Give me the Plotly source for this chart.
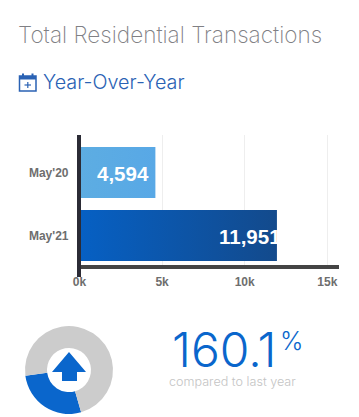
import plotly.graph_objects as go

categories = ["May'20", "May'21"]
values = [4594, 11951]
bar_labels = ["4,594", "11,951"]
label_shift = [-4, 6]
tick_vals = [0, 5000, 10000, 15000]
tick_text = ["0k", "5k", "10k", "15k"]
donut_labels = ["Change", "Rest"]
donut_values = [27.4, 72.6]

W, H = 359, 417
def px(x): return x / W
def py(y): return 1 - y / H

fig = go.Figure()
fig.add_trace(go.Bar(
    y=categories, x=values, orientation="h", width=0.81,
    marker=dict(color=["#5DADE2", "#0A5CB8"], line=dict(width=0)),
    hoverinfo="skip", xaxis="x", yaxis="y",
))
fig.add_trace(go.Pie(
    labels=donut_labels, values=donut_values, hole=0.5, sort=False, direction="clockwise",
    rotation=164, textinfo="none", showlegend=False,
    marker=dict(colors=["#0A66CC", "#CCCCCC"], line=dict(width=0)),
    domain=dict(x=[px(25), px(113)], y=[py(414), py(326)]),
    hoverinfo="skip",
))

title_font = "Inter"
annots = [
    dict(text="Total Residential Transactions", x=px(15.5), y=py(34), xanchor="left", yanchor="middle",
         font=dict(family=title_font, size=22.6, color="#808084", weight=200)),
    dict(text="Year-Over-Year", x=px(41), y=py(82), xanchor="left", yanchor="middle",
         font=dict(family=title_font, size=19.8, color="#2a62b4", weight=300)),
    dict(text="160.1", x=px(170), y=py(349), xanchor="left", yanchor="middle",
         font=dict(family=title_font, size=48, color="#0a66cc", weight=300)),
    dict(text="%", x=px(278), y=py(341), xanchor="left", yanchor="middle",
         font=dict(family=title_font, size=25, color="#0a66cc", weight=300)),
    dict(text="compared to last year", x=px(167), y=py(381), xanchor="left", yanchor="middle",
         font=dict(family=title_font, size=12.6, color="#c4c4c4", weight=300)),
]
for a in annots:
    a.update(xref="paper", yref="paper", showarrow=False)
for cat, val, lab, sh in zip(categories, values, bar_labels, label_shift):
    annots.append(dict(text=lab, x=val, y=cat, xref="x", yref="y", xanchor="right", yanchor="middle",
                       xshift=sh, yshift=-1, showarrow=False,
                       font=dict(family="Liberation Sans", size=20.5, color="white", weight="bold")))

def pth(points):
    return "M" + " L".join(f"{px(x):.5f},{py(y):.5f}" for x, y in points) + " Z"

shapes = [
    dict(type="line", x0=px(79), x1=px(79), y0=py(135), y1=py(277), line=dict(color="#2b2b35", width=4), layer="above"),
    dict(type="line", x0=px(81), x1=px(339), y0=py(267), y1=py(267), line=dict(color="#444444", width=4), layer="above"),
    dict(type="path", path=pth([(69, 352), (86, 372), (77, 372), (77, 381), (62, 381), (62, 372), (52, 372)]),
         fillcolor="#0a66cc", line=dict(width=0)),
    dict(type="rect", x0=px(19.5), x1=px(36), y0=py(76), y1=py(91), line=dict(color="#2a62b4", width=1.5)),
    dict(type="rect", x0=px(19.5), x1=px(36), y0=py(76), y1=py(79.5), fillcolor="#2a62b4", line=dict(width=0)),
    dict(type="line", x0=px(23), x1=px(23), y0=py(73.5), y1=py(77), line=dict(color="#2a62b4", width=2)),
    dict(type="line", x0=px(32.5), x1=px(32.5), y0=py(73.5), y1=py(77), line=dict(color="#2a62b4", width=2)),
    dict(type="line", x0=px(24.5), x1=px(31), y0=py(85), y1=py(85), line=dict(color="#2a62b4", width=1.2)),
    dict(type="line", x0=px(27.8), x1=px(27.8), y0=py(82), y1=py(88), line=dict(color="#2a62b4", width=1.2)),
]
for s in shapes:
    s.update(xref="paper", yref="paper")

fig.update_layout(
    width=W, height=H, margin=dict(l=0, r=0, t=0, b=0, autoexpand=False), autosize=False,
    paper_bgcolor="white", plot_bgcolor="white", showlegend=False,
    annotations=annots, shapes=shapes,
    xaxis=dict(domain=[px(79.5), px(339)], range=[0, 15708], tickvals=tick_vals, ticktext=tick_text,
               showgrid=True, gridcolor="#eeeeee", gridwidth=1, zeroline=False, showline=False, ticks="",
               anchor="y", ticklabelstandoff=6,
               tickfont=dict(family="Liberation Sans", size=12, color="#6e6e6e", weight="bold")),
    yaxis=dict(domain=[py(267), py(135)], categoryorder="array", categoryarray=categories[::-1],
               range=[-0.5, 1.595], showgrid=False, zeroline=False, showline=False, ticks="", ticklabelstandoff=10,
               tickfont=dict(family="Liberation Sans", size=12, color="#6e6e6e", weight="bold")),
)

post = """
document.documentElement.style.overflow='hidden';
document.body.style.margin='0';
var gd=document.querySelector('.plotly-graph-div');
gd.style.position='fixed';gd.style.left='0';gd.style.top='0';gd.style.margin='0';
function grad(){
 var svg=gd.querySelector('.main-svg');
 var ns='http://www.w3.org/2000/svg';
 var defs=svg.querySelector('defs');
 var stops=[['gbar0','#5dade2','#58a8e6'],['gbar1','#0660c4','#134a8c']];
 stops.forEach(function(s){
  if(document.getElementById(s[0]))return;
  var g=document.createElementNS(ns,'linearGradient');g.setAttribute('id',s[0]);
  [[0,s[1]],[1,s[2]]].forEach(function(p){var t=document.createElementNS(ns,'stop');t.setAttribute('offset',p[0]);t.setAttribute('stop-color',p[1]);g.appendChild(t);});
  defs.appendChild(g);
 });
 gd.querySelectorAll('.barlayer .point path').forEach(function(b,i){b.style.fill='url(#gbar'+i+')';});
}
grad();
"""
fig.write_html("out.html", post_script=post, config={"displayModeBar": False})
